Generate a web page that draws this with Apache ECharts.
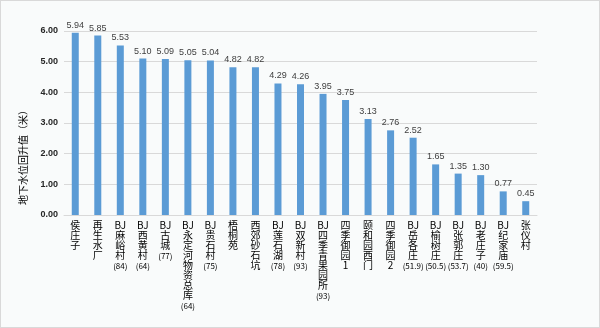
<!DOCTYPE html>
<html><head><meta charset="utf-8">
<script src="https://cdn.jsdelivr.net/npm/echarts@6/dist/echarts.min.js"></script>
<style>html,body{margin:0;padding:0;background:#fff}#c{width:600px;height:328px;box-sizing:border-box;border:1px solid #d9d9d9;background:#f9fbfb}</style>
</head><body><div id="c"></div>
<script>
const categories = ['侯庄子','再生水厂','BJ麻峪村（84）','BJ西黄村（64）','BJ古城（77）','BJ永定河物资总库（64）','BJ贵石村（75）','梧桐苑','西郊砂石坑','BJ莲石湖（78）','BJ双新村（93）','BJ四季青果园所（93）','四季御园1','颐和园西门','四季御园2','BJ岳各庄（51.9）','BJ榆树庄（50.5）','BJ张郭庄（53.7）','BJ老庄子（40）','BJ纪家庙（59.5）','张仪村'];
const values = [5.94,5.85,5.53,5.10,5.09,5.05,5.04,4.82,4.82,4.29,4.26,3.95,3.75,3.13,2.76,2.52,1.65,1.35,1.30,0.77,0.45];
const yTicks = [0,1,2,3,4,5,6];
const yName = '地下水位回升值（米）';

function vert(s){
  let m = s.match(/^(BJ)?(.*?)(（(.*)）)?$/);
  let lines = [];
  if (m[1]) lines.push(m[1]);
  let mid = m[2];
  // trailing digits (e.g. 四季御园1) kept as one line
  let dm = mid.match(/^(.*?)(\d+)$/);
  let cjk = dm ? dm[1] : mid;
  for (const ch of cjk) lines.push(ch);
  if (dm) lines.push(dm[2]);
  if (m[3]) lines.push('{n|(' + m[4] + ')}');
  return lines.join('\n');
}

const chart = echarts.init(document.getElementById('c'));
chart.setOption({
  backgroundColor: '#f9fbfb',
  animation: false,
  grid: {left: 63, right: 62, top: 30, bottom: 112},
  xAxis: {
    type: 'category', data: categories,
    axisLine: {lineStyle: {color: '#d9d9d9'}},
    axisTick: {show: false},
    axisLabel: {interval: 0, margin: 5, color: '#000', fontSize: 10, lineHeight: 10,
      fontFamily: 'Noto Sans CJK SC', verticalAlign: 'top',
      formatter: vert,
      rich: {n: {fontSize: 8, lineHeight: 12, fontFamily: 'Noto Sans CJK SC', color: '#000'}}}
  },
  yAxis: {
    type: 'value', min: yTicks[0], max: yTicks[yTicks.length-1], interval: 1,
    name: yName, nameLocation: 'middle', nameGap: 36, nameRotate: 90,
    nameTextStyle: {fontSize: 10, color: '#000', fontFamily: 'Noto Sans CJK SC', padding: [0, 64, 0, 0]},
    axisLine: {show: false}, axisTick: {show: false},
    splitLine: {lineStyle: {color: '#d9d9d9'}},
    axisLabel: {margin: 6, fontSize: 9, fontWeight: 'bold', color: '#262626', fontFamily: 'Liberation Sans',
      formatter: v => v.toFixed(2)}
  },
  series: [{
    type: 'bar', data: values, barWidth: 7,
    itemStyle: {color: '#5b9bd5'},
    label: {show: true, position: 'top', distance: 3, fontSize: 9, color: '#404040', fontFamily: 'Liberation Sans',
      formatter: p => p.value.toFixed(2)}
  }]
});
</script></body></html>
